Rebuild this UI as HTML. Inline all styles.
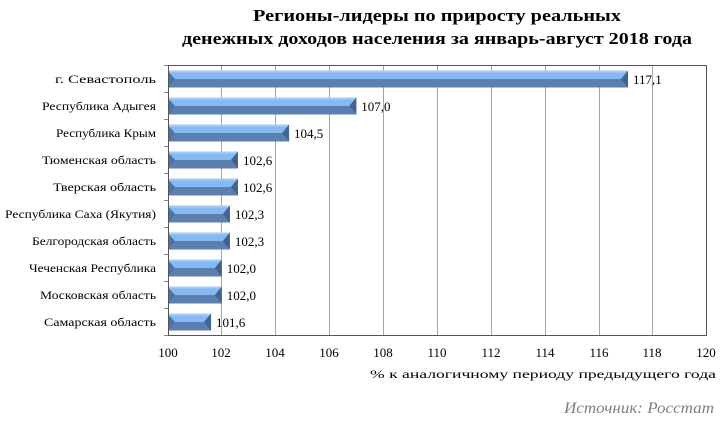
<!DOCTYPE html>
<html><head><meta charset="utf-8"><style>
html,body{margin:0;padding:0;background:#fff;}
svg{display:block;}
</style></head><body>
<svg width="720" height="423" viewBox="0 0 720 423" xmlns="http://www.w3.org/2000/svg" font-family="Liberation Serif, serif">
<text x="437" y="21" text-anchor="middle" font-size="17" font-weight="bold" textLength="368" lengthAdjust="spacingAndGlyphs">Регионы-лидеры по приросту реальных</text>
<text x="437" y="44" text-anchor="middle" font-size="17" font-weight="bold" textLength="510" lengthAdjust="spacingAndGlyphs">денежных доходов населения за январь-август 2018 года</text>
<g stroke="#a6a6a6" stroke-width="1">
<line x1="221.5" y1="65" x2="221.5" y2="335"/><line x1="275.5" y1="65" x2="275.5" y2="335"/>
<line x1="329.5" y1="65" x2="329.5" y2="335"/><line x1="383.5" y1="65" x2="383.5" y2="335"/>
<line x1="437.5" y1="65" x2="437.5" y2="335"/><line x1="491.5" y1="65" x2="491.5" y2="335"/>
<line x1="545.5" y1="65" x2="545.5" y2="335"/><line x1="599.5" y1="65" x2="599.5" y2="335"/>
<line x1="652.5" y1="65" x2="652.5" y2="335"/>
</g>
<rect x="168.5" y="65.5" width="538" height="270" fill="none" stroke="#555" stroke-width="1"/>
<g stroke="#888"><line x1="164" y1="335.5" x2="168" y2="335.5"/></g>
<g font-size="13" text-anchor="middle">
<text x="168" y="357">100</text><text x="221" y="357">102</text><text x="275" y="357">104</text><text x="329" y="357">106</text><text x="383" y="357">108</text><text x="437" y="357">110</text><text x="491" y="357">112</text><text x="545" y="357">114</text><text x="599" y="357">116</text><text x="652" y="357">118</text><text x="706" y="357">120</text>
</g>
<text x="716" y="378" text-anchor="end" font-size="12" textLength="346" lengthAdjust="spacingAndGlyphs">% к аналогичному периоду предыдущего года</text>
<text x="714" y="413" text-anchor="end" font-size="16" font-style="italic" fill="#7f7f7f" textLength="150" lengthAdjust="spacingAndGlyphs">Источник: Росстат</text>
<g id="bars" font-size="13"></g>
</svg>
<script>
var d=[["г. Севастополь",117.1,"117,1",101],["Республика Адыгея",107.0,"107,0",114],["Республика Крым",104.5,"104,5",100],["Тюменская область",102.6,"102,6",114],["Тверская область",102.6,"102,6",103],["Республика Саха (Якутия)",102.3,"102,3",151],["Белгородская область",102.3,"102,3",124],["Чеченская Республика",102.0,"102,0",127],["Московская область",102.0,"102,0",116],["Самарская область",101.6,"101,6",112]];
var g=document.getElementById("bars"),s="";
d.forEach(function(r,i){
 var cy=65+27*(i+0.5)+0.5,x0=169,x1=168+(r[1]-100)*26.9,t=cy-8.5,b=cy+8.5,m=cy,e=7;
 s+='<rect x="'+x0+'" y="'+t+'" width="'+(x1-x0)+'" height="'+(m-t)+'" fill="#86b8f4"/>';
 s+='<rect x="'+x0+'" y="'+t+'" width="'+(x1-x0)+'" height="2" fill="#a6cbf7"/>';
 s+='<rect x="'+x0+'" y="'+m+'" width="'+(x1-x0)+'" height="'+(b-m)+'" fill="#5b7fae"/>';
 s+='<polygon points="'+x0+','+(t+2)+' '+(x0+6)+','+m+' '+x0+','+(b-1)+'" fill="#4a73aa"/>';
 s+='<polygon points="'+x1+','+t+' '+(x1-e)+','+m+' '+x1+','+b+'" fill="#3f6494"/>';
 s+='<text x="'+(x1+5)+'" y="'+(cy+5)+'">'+r[2]+'</text>';
 s+='<text x="156" y="'+(cy+4)+'" text-anchor="end" font-size="12" textLength="'+r[3]+'" lengthAdjust="spacingAndGlyphs">'+r[0]+'</text>';
 s+='<line x1="164" y1="'+(65+27*i+0.5)+'" x2="168" y2="'+(65+27*i+0.5)+'" stroke="#888"/>';
});
g.innerHTML=s;
</script>
</body></html>
